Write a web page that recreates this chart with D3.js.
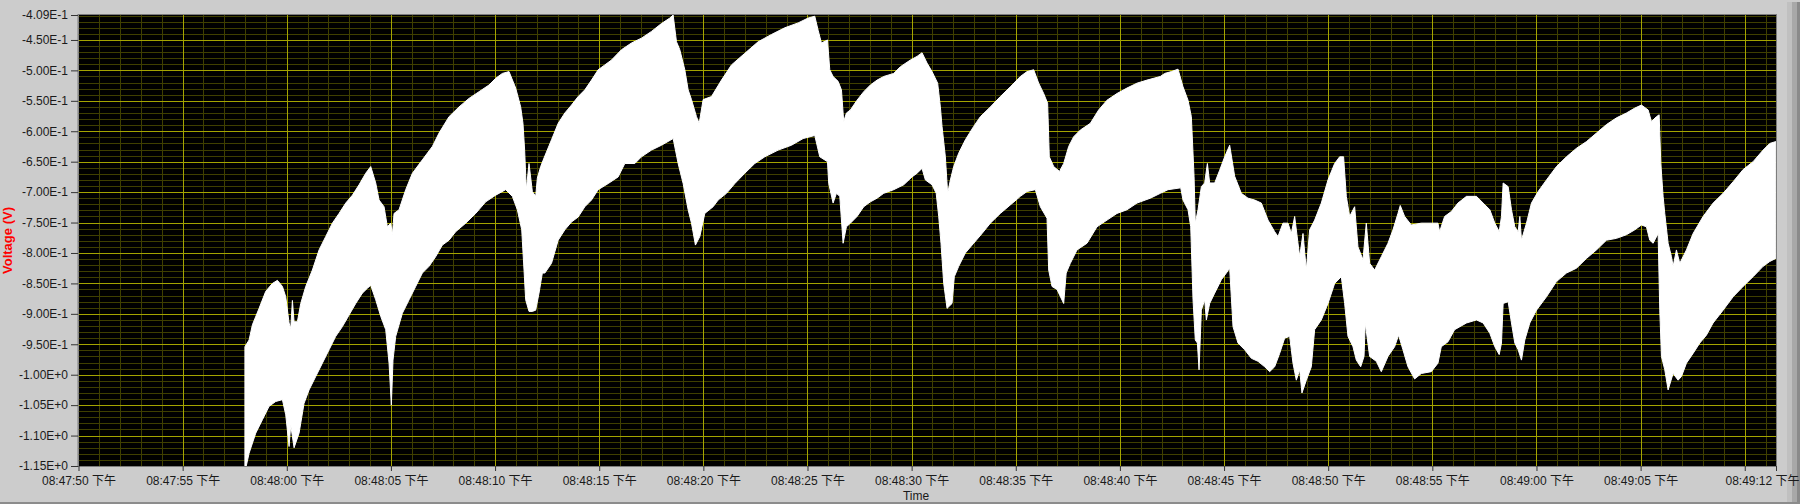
<!DOCTYPE html>
<html><head><meta charset="utf-8">
<script src="https://cdn.jsdelivr.net/npm/d3@7"></script>
<style>
html,body{margin:0;padding:0;background:#cccccc;overflow:hidden}
svg text{font-family:"Liberation Sans","Noto Sans CJK SC",Arial,sans-serif}
</style>
</head><body>
<svg id="chart" width="1800" height="504"></svg>
<script>
// ---- data (seconds after 20:47:50, i.e. 08:47:50 下午) ----
const upperT = [7.99,8.19,8.35,8.67,8.99,9.31,9.55,9.79,9.95,10.11,10.19,10.27,10.35,10.51,10.67,10.91,11.23,11.55,11.87,12.19,12.51,12.83,13.15,13.47,13.79,14.03,14.27,14.43,14.67,14.83,14.99,15.07,15.15,15.39,15.71,16.03,16.51,16.99,17.31,17.79,18.27,18.75,19.23,19.71,20.03,20.35,20.67,20.99,21.23,21.34,21.42,21.50,21.63,21.79,21.95,22.03,22.19,22.35,
22.71,23.03,23.35,23.67,23.99,24.31,24.63,24.95,25.27,25.59,26.07,26.55,27.03,27.51,27.99,28.39,28.55,28.71,28.87,29.11,29.27,29.43,29.67,29.80,29.99,30.39,30.87,31.35,31.99,32.63,33.27,33.91,34.55,35.03,35.35,35.51,35.67,35.96,36.07,36.23,36.47,36.63,36.74,36.87,
37.06,37.38,37.70,38.02,38.34,38.66,39.14,39.46,39.94,40.26,40.50,40.74,40.98,41.25,41.38,41.46,41.62,41.73,41.86,42.02,42.26,42.58,42.98,43.30,43.78,44.26,44.74,45.22,45.54,45.86,46.10,46.34,46.53,46.61,46.82,47.10,47.30,47.54,47.78,48.10,48.58,48.98,49.38,49.86,50.34,50.82,51.30,51.94,
52.15,52.47,52.79,53.03,53.27,53.43,53.56,53.62,53.75,53.91,54.07,54.20,54.31,54.55,54.79,55.03,55.27,55.51,55.83,56.15,56.47,56.79,57.11,57.43,57.59,57.83,58.07,58.23,58.39,58.63,58.79,58.95,59.11,59.35,59.67,59.99,60.31,60.55,60.74,60.87,61.03,61.27,61.43,61.67,61.83,61.99,62.23,62.55,62.87,63.11,63.35,63.46,63.67,63.99,64.47,64.95,65.27,65.35,65.59,65.91,66.23,
66.64,67.12,67.44,67.76,68.00,68.21,68.32,68.40,68.64,68.80,68.96,69.12,69.20,69.28,69.52,69.76,70.08,70.48,70.96,71.44,71.92,72.40,72.88,73.36,73.84,74.32,74.72,75.04,75.36,75.52,75.76,75.89,75.97,76.08,76.16,76.32,76.48,76.56,76.72,76.88,77.20,77.52,78.00,78.48,78.96,79.44,79.92,80.40,80.88,81.20,81.49];
const upperV = [-0.954,-0.943,-0.918,-0.891,-0.863,-0.850,-0.845,-0.855,-0.872,-0.915,-0.924,-0.878,-0.913,-0.913,-0.883,-0.855,-0.828,-0.795,-0.773,-0.751,-0.735,-0.718,-0.705,-0.688,-0.669,-0.658,-0.685,-0.713,-0.724,-0.757,-0.751,-0.770,-0.735,-0.729,-0.696,-0.669,-0.647,-0.625,-0.603,-0.576,-0.560,-0.546,-0.535,-0.524,-0.513,-0.505,-0.502,-0.529,-0.560,-0.587,-0.631,-0.696,-0.653,-0.699,-0.707,-0.677,-0.658,-0.644,
-0.614,-0.587,-0.570,-0.557,-0.543,-0.532,-0.516,-0.499,-0.491,-0.483,-0.466,-0.455,-0.447,-0.436,-0.423,-0.414,-0.409,-0.453,-0.466,-0.499,-0.532,-0.548,-0.576,-0.587,-0.548,-0.543,-0.516,-0.491,-0.472,-0.453,-0.441,-0.430,-0.422,-0.414,-0.411,-0.434,-0.455,-0.450,-0.499,-0.510,-0.518,-0.532,-0.584,-0.570,
-0.565,-0.549,-0.535,-0.524,-0.516,-0.510,-0.505,-0.494,-0.483,-0.477,-0.471,-0.488,-0.502,-0.521,-0.560,-0.592,-0.642,-0.702,-0.680,-0.658,-0.636,-0.614,-0.592,-0.576,-0.560,-0.543,-0.527,-0.510,-0.502,-0.499,-0.521,-0.538,-0.554,-0.642,-0.658,-0.666,-0.653,-0.625,-0.609,-0.598,-0.587,-0.565,-0.549,-0.538,-0.529,-0.521,-0.516,-0.510,
-0.505,-0.502,-0.498,-0.527,-0.549,-0.576,-0.674,-0.751,-0.729,-0.691,-0.685,-0.653,-0.685,-0.685,-0.664,-0.642,-0.623,-0.674,-0.702,-0.710,-0.713,-0.718,-0.746,-0.765,-0.773,-0.751,-0.751,-0.768,-0.740,-0.806,-0.768,-0.828,-0.762,-0.746,-0.718,-0.680,-0.653,-0.642,-0.642,-0.707,-0.740,-0.724,-0.790,-0.811,-0.751,-0.817,-0.828,-0.806,-0.784,-0.762,-0.735,-0.722,-0.740,-0.754,-0.751,-0.751,-0.751,-0.765,-0.740,-0.732,-0.718,
-0.707,-0.707,-0.718,-0.729,-0.751,-0.765,-0.740,-0.685,-0.691,-0.729,-0.757,-0.765,-0.740,-0.779,-0.751,-0.718,-0.699,-0.680,-0.658,-0.642,-0.628,-0.617,-0.603,-0.589,-0.578,-0.570,-0.562,-0.557,-0.565,-0.584,-0.576,-0.573,-0.653,-0.707,-0.735,-0.784,-0.806,-0.822,-0.795,-0.817,-0.795,-0.768,-0.740,-0.718,-0.702,-0.683,-0.663,-0.650,-0.631,-0.620,-0.617];

const lowerT = [7.99,8.19,8.51,8.83,9.15,9.47,9.79,9.95,10.11,10.19,10.35,10.59,10.83,11.07,11.39,11.71,12.03,12.35,12.67,12.99,13.31,13.63,13.87,14.03,14.27,14.51,14.75,14.91,15.02,15.10,15.23,15.55,15.87,16.19,16.51,16.83,17.15,17.47,17.79,18.11,18.59,19.07,19.55,20.03,20.51,20.83,21.07,21.28,21.39,21.47,21.63,21.79,21.95,22.11,22.27,
22.39,22.71,23.03,23.35,23.67,23.99,24.31,24.63,24.95,25.43,25.91,26.23,26.71,27.03,27.51,27.99,28.55,28.79,29.03,29.27,29.43,29.62,29.83,30.07,30.47,30.71,31.11,31.51,31.99,32.47,32.95,33.59,34.23,34.79,35.35,35.59,35.96,36.02,36.23,36.39,36.55,36.71,36.87,
37.06,37.38,37.70,38.02,38.34,38.66,39.14,39.62,40.02,40.26,40.50,40.66,40.98,41.18,41.30,41.41,41.54,41.70,41.94,42.05,42.26,42.58,42.98,43.38,43.78,44.26,44.74,45.22,45.54,45.94,46.18,46.50,46.58,46.74,46.98,47.30,47.42,47.62,47.94,48.42,48.90,49.38,49.86,50.34,50.82,51.46,51.94,
52.31,52.92,53.03,53.27,53.40,53.51,53.62,53.72,53.80,53.91,54.07,54.15,54.31,54.55,54.87,55.11,55.27,55.43,55.67,55.99,56.31,56.63,56.95,57.19,57.43,57.67,57.91,58.15,58.31,58.47,58.63,58.74,58.95,59.19,59.35,59.67,59.99,60.31,60.63,60.79,60.95,61.19,61.35,61.56,61.72,61.78,61.99,62.31,62.55,62.87,63.19,63.38,63.59,63.83,64.15,64.47,64.95,65.27,65.43,65.75,66.07,
66.64,67.12,67.44,67.76,68.00,68.21,68.32,68.40,68.64,68.80,68.96,69.12,69.28,69.44,69.68,70.00,70.48,70.96,71.44,71.92,72.40,72.88,73.36,73.84,74.32,74.72,75.04,75.28,75.44,75.60,75.84,75.92,76.00,76.16,76.32,76.56,76.80,76.96,77.20,77.52,77.84,78.16,78.48,78.96,79.44,79.92,80.40,80.88,81.20,81.49];
const lowerV = [-1.160,-1.129,-1.096,-1.074,-1.052,-1.044,-1.041,-1.066,-1.118,-1.083,-1.120,-1.096,-1.047,-1.025,-1.003,-0.981,-0.959,-0.937,-0.921,-0.902,-0.883,-0.866,-0.858,-0.853,-0.877,-0.904,-0.926,-0.981,-1.050,-0.976,-0.937,-0.899,-0.877,-0.855,-0.833,-0.822,-0.806,-0.787,-0.779,-0.765,-0.751,-0.735,-0.716,-0.705,-0.696,-0.707,-0.729,-0.762,-0.828,-0.877,-0.896,-0.896,-0.894,-0.866,-0.833,
-0.833,-0.817,-0.779,-0.762,-0.749,-0.741,-0.724,-0.713,-0.696,-0.686,-0.675,-0.653,-0.653,-0.642,-0.631,-0.623,-0.612,-0.653,-0.686,-0.729,-0.751,-0.787,-0.773,-0.735,-0.724,-0.713,-0.702,-0.686,-0.669,-0.653,-0.642,-0.631,-0.623,-0.612,-0.607,-0.642,-0.650,-0.686,-0.718,-0.702,-0.707,-0.784,-0.757,
-0.751,-0.740,-0.724,-0.716,-0.710,-0.702,-0.696,-0.688,-0.675,-0.669,-0.661,-0.680,-0.688,-0.702,-0.740,-0.784,-0.850,-0.891,-0.883,-0.839,-0.822,-0.800,-0.784,-0.768,-0.751,-0.735,-0.721,-0.707,-0.699,-0.696,-0.724,-0.743,-0.828,-0.855,-0.860,-0.883,-0.833,-0.817,-0.795,-0.784,-0.757,-0.746,-0.735,-0.729,-0.718,-0.710,-0.702,
-0.696,-0.693,-0.713,-0.729,-0.757,-0.877,-0.943,-0.948,-0.992,-0.894,-0.877,-0.910,-0.883,-0.866,-0.844,-0.833,-0.825,-0.921,-0.948,-0.959,-0.973,-0.978,-0.987,-0.995,-0.987,-0.965,-0.940,-0.937,-0.981,-1.009,-0.992,-1.030,-1.009,-0.987,-0.926,-0.910,-0.883,-0.850,-0.839,-0.883,-0.937,-0.954,-0.976,-0.987,-0.970,-0.915,-0.970,-0.978,-0.995,-0.970,-0.954,-0.935,-0.959,-0.987,-1.007,-0.998,-0.995,-0.981,-0.954,-0.946,-0.926,
-0.915,-0.910,-0.915,-0.932,-0.954,-0.967,-0.948,-0.883,-0.880,-0.915,-0.948,-0.959,-0.976,-0.943,-0.915,-0.894,-0.872,-0.847,-0.833,-0.825,-0.809,-0.795,-0.779,-0.776,-0.770,-0.762,-0.754,-0.757,-0.779,-0.784,-0.768,-0.894,-0.970,-0.992,-1.025,-0.998,-1.009,-1.003,-0.981,-0.965,-0.948,-0.935,-0.915,-0.894,-0.872,-0.855,-0.839,-0.822,-0.814,-0.809];

const yTickValues = [-0.409,-0.45,-0.50,-0.55,-0.60,-0.65,-0.70,-0.75,-0.80,-0.85,-0.90,-0.95,-1.00,-1.05,-1.10,-1.15];
const yTickLabels = ["-4.09E-1","-4.50E-1","-5.00E-1","-5.50E-1","-6.00E-1","-6.50E-1","-7.00E-1","-7.50E-1","-8.00E-1","-8.50E-1","-9.00E-1","-9.50E-1","-1.00E+0","-1.05E+0","-1.10E+0","-1.15E+0"];
const xTickSeconds = [0,5,10,15,20,25,30,35,40,45,50,55,60,65,70,75,80,81.5];
const xTickLabels = ["08:47:50 下午","08:47:55 下午","08:48:00 下午","08:48:05 下午","08:48:10 下午","08:48:15 下午","08:48:20 下午","08:48:25 下午","08:48:30 下午","08:48:35 下午","08:48:40 下午","08:48:45 下午","08:48:50 下午","08:48:55 下午","08:49:00 下午","08:49:05 下午","","08:49:12 下午"];
const xDomainSeconds = [0, 81.5];
const yDomain = [-1.15, -0.409];
const yLabel = "Voltage (V)";
const xLabel = "Time";

// ---- drawing ----
const base = new Date(2024,0,1,20,47,50);
const toDate = s => new Date(base.getTime() + s*1000);
const L = 78.5, R = 1776, T = 15, B = 466;
const x = d3.scaleTime().domain(xDomainSeconds.map(toDate)).range([L, R]);
const y = d3.scaleLinear().domain(yDomain).range([B, T]);

const svg = d3.select("#chart");
svg.append("rect").attr("width",1800).attr("height",504).attr("fill","#cccccc");

// right frame strips
svg.append("rect").attr("x",1787).attr("y",2).attr("width",5).attr("height",502).attr("fill","#c0c0c0");
svg.append("rect").attr("x",1792).attr("y",2).attr("width",5).attr("height",502).attr("fill","#a8a8a8");
svg.append("rect").attr("x",1797).attr("y",2).attr("width",3).attr("height",502).attr("fill","#8a8a8a");

svg.append("defs").append("clipPath").attr("id","plotclip")
  .append("rect").attr("x",L).attr("y",T).attr("width",R-L).attr("height",B-T);

const plot = svg.append("g").attr("clip-path","url(#plotclip)");
plot.append("rect").attr("x",L).attr("y",T).attr("width",R-L).attr("height",B-T).attr("fill","#000");

const px = v => Math.round(v) + 0.5;
// minor grid
const minorY = d3.range(-41, -115, -1).map(k => k/100).filter(v => Math.round(v*100) % 5 !== 0);
plot.selectAll("line.hmin").data(minorY).join("line")
  .attr("x1",L).attr("x2",R).attr("y1",d=>px(y(d))).attr("y2",d=>px(y(d)))
  .attr("stroke","#3f3f00").attr("stroke-width",1);
const minorX = d3.range(1, 82).filter(s => s % 5 !== 0);
plot.selectAll("line.vmin").data(minorX).join("line")
  .attr("y1",T).attr("y2",B).attr("x1",d=>px(x(toDate(d)))).attr("x2",d=>px(x(toDate(d))))
  .attr("stroke","#3f3f00").attr("stroke-width",1);
// major grid
plot.selectAll("line.hmaj").data(yTickValues.slice(1,-1)).join("line")
  .attr("x1",L).attr("x2",R).attr("y1",d=>px(y(d))).attr("y2",d=>px(y(d)))
  .attr("stroke","#a4a400").attr("stroke-width",1);
plot.selectAll("line.vmaj").data(xTickSeconds.filter(s=>s>0 && s%5===0)).join("line")
  .attr("y1",T).attr("y2",B).attr("x1",d=>px(x(toDate(d)))).attr("x2",d=>px(x(toDate(d))))
  .attr("stroke","#a4a400").attr("stroke-width",1);

// signal band
const upper = upperT.map((t,i)=>[t, upperV[i]]);
const lower = lowerT.map((t,i)=>[t, lowerV[i]]);
const pts = upper.concat(lower.slice().reverse());
const line = d3.line().x(d=>x(toDate(d[0]))).y(d=>y(d[1]));
plot.append("path").attr("d", line(pts) + "Z").attr("fill","#fff").attr("stroke","#fff").attr("stroke-width",1);

// border
svg.append("rect").attr("x",L-0.5).attr("y",T-0.5).attr("width",R-L+1).attr("height",B-T+1)
  .attr("fill","none").attr("stroke","#7d7d7d").attr("stroke-width",1);

// axes
const yAxis = d3.axisLeft(y).tickValues(yTickValues).tickFormat((d,i)=>yTickLabels[i]).tickSize(7).tickPadding(3);
const gy = svg.append("g").attr("transform",`translate(${L-0.5},0)`).call(yAxis);
gy.select(".domain").remove();
gy.selectAll("line").attr("stroke","#333");
gy.selectAll("text").attr("font-size",12).attr("fill","#1a1a1a");

const xAxis = d3.axisBottom(x).tickValues(xTickSeconds.map(toDate)).tickFormat((d,i)=>xTickLabels[i]).tickSize(5).tickPadding(5);
const gx = svg.append("g").attr("transform",`translate(0,${B})`).call(xAxis);
gx.select(".domain").remove();
gx.selectAll("line").attr("stroke","#333");
gx.selectAll("text").attr("font-size",12).attr("fill","#1a1a1a");
// keep the end-of-range label inside the window
gx.selectAll(".tick").filter((d,i)=>i===xTickSeconds.length-1).select("text")
  .attr("text-anchor","end").attr("x", 1799 - x(toDate(xDomainSeconds[1])));

// axis titles
svg.append("text").attr("transform","translate(11.5,240.5) rotate(-90)").attr("text-anchor","middle")
  .attr("font-size",13).attr("font-weight","bold").attr("fill","#ff0000").text(yLabel);
// bottom frame line
svg.append("rect").attr("x",0).attr("y",502).attr("width",1800).attr("height",2).attr("fill","#8c8c8c");
svg.append("text").attr("x",916).attr("y",500).attr("text-anchor","middle")
  .attr("font-size",12).attr("fill","#1a1a1a").text(xLabel);
</script>
</body></html>
